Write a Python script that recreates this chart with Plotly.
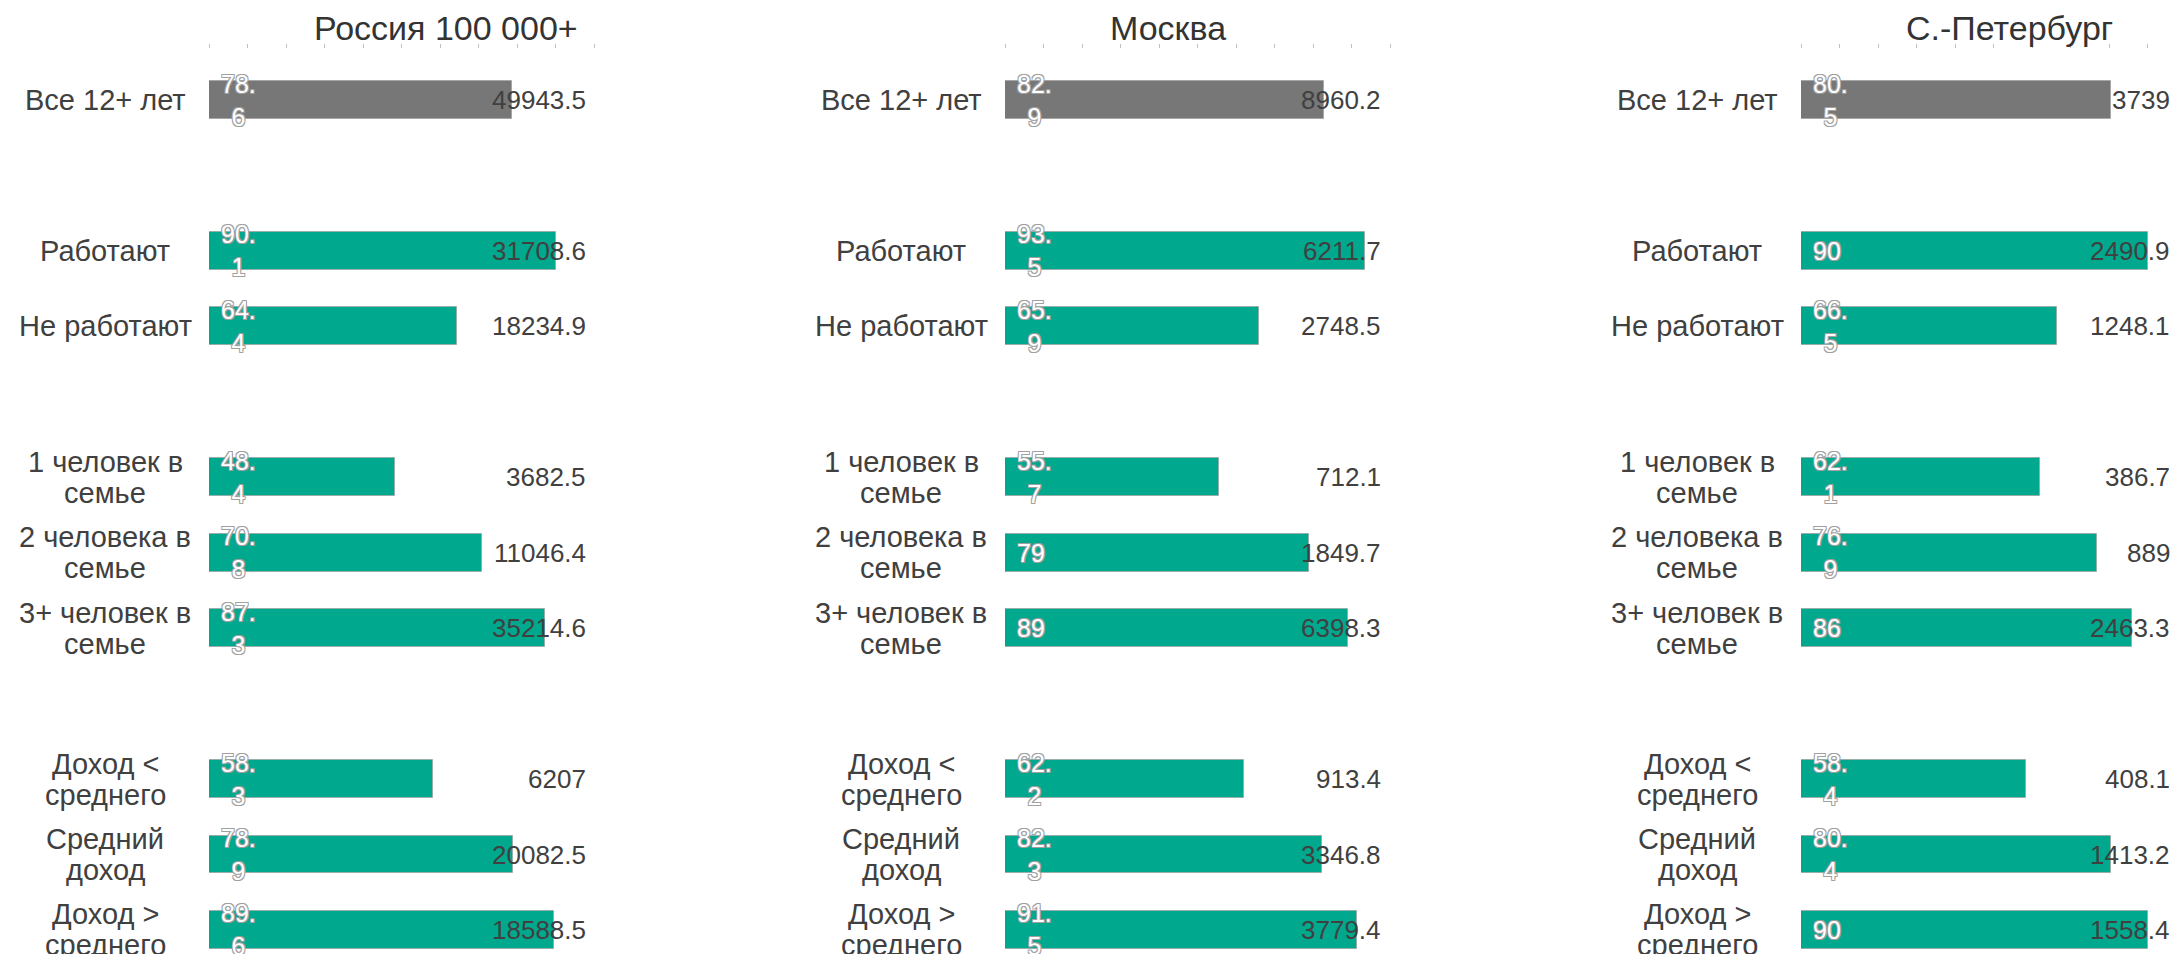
import plotly.graph_objects as go

# page size and browser body margin offset
PAGE_W, PAGE_H = 2182, 962
OFF = 8
W, H = PAGE_W - 2 * OFF, PAGE_H - 2 * OFF

regions = ["Россия 100 000+", "Москва", "С.-Петербург"]

categories = ["Все 12+ лет", "Работают", "Не работают",
              "1 человек в семье", "2 человека в семье", "3+ человек в семье",
              "Доход < среднего", "Средний доход", "Доход > среднего"]
category_labels = ["Все 12+ лет", "Работают", "Не работают",
                   "1 человек в\nсемье", "2 человека в\nсемье", "3+ человек в\nсемье",
                   "Доход &lt;\nсреднего", "Средний\nдоход", "Доход &gt;\nсреднего"]
group_index = [0, 1, 1, 2, 2, 2, 3, 3, 3]

share_russia = [78.6, 90.1, 64.4, 48.4, 70.8, 87.3, 58.3, 78.9, 89.6]
share_moscow = [82.9, 93.5, 65.9, 55.7, 79, 89, 62.2, 82.3, 91.5]
share_spb = [80.5, 90, 66.5, 62.1, 76.9, 86, 58.4, 80.4, 90]

count_russia = [49943.5, 31708.6, 18234.9, 3682.5, 11046.4, 35214.6, 6207, 20082.5, 18588.5]
count_moscow = [8960.2, 6211.7, 2748.5, 712.1, 1849.7, 6398.3, 913.4, 3346.8, 3779.4]
count_spb = [3739, 2490.9, 1248.1, 386.7, 889, 2463.3, 408.1, 1413.2, 1558.4]

shares = [share_russia, share_moscow, share_spb]
counts = [count_russia, count_moscow, count_spb]

# ---- layout constants (page pixel coordinates) ----
GRAY = "#777777"
TEAL = "#00A88E"
TXT = "#404040"
PX_PER_UNIT = 3.85
panel_start = [209 - OFF, 1005 - OFF, 1801 - OFF]
panel_end = [598 - OFF, 1394 - OFF, W]
value_right = [588 - OFF, 1383 - OFF, 2172 - OFF]
TOP = 49 - OFF
plot_h = H - TOP
row0_y = 100 - OFF
row_step = 75.45
y_top = -(row0_y - TOP) / row_step
y_bottom = y_top + plot_h / row_step

positions = [i + g for i, g in enumerate(group_index)]
colors = [GRAY if g == 0 else TEAL for g in group_index]


def fmt(v):
    return f"{v:g}"


def inner(v):
    s = fmt(v)
    if "." in s:
        a, b = s.split(".")
        return a + ".<br>" + b
    return s


fig = go.Figure()
annotations = []
oc = "#a0a0a0"
outline = f"1px 1px 0 {oc}, -1px -1px 0 {oc}, 1px -1px 0 {oc}, -1px 1px 0 {oc}"

for p in range(3):
    xa = "x" if p == 0 else f"x{p + 1}"
    fig.add_trace(go.Bar(
        x=shares[p], y=positions, orientation="h", width=0.5,
        marker=dict(color=colors, line=dict(color="rgba(160,160,160,0.7)", width=1)),
        xaxis=xa, yaxis="y", showlegend=False, hoverinfo="x+y",
    ))
    start = panel_start[p]
    # title
    annotations.append(dict(
        text=regions[p], xref="paper", yref="paper",
        x=(start + 103) / W, y=1 + (TOP - (28 - OFF)) / plot_h,
        xanchor="left", yanchor="middle", showarrow=False,
        font=dict(family="Liberation Sans, Arial", size=34, color="#333333"),
    ))
    for i, cat in enumerate(categories):
        pos = positions[i]
        lines = category_labels[i].split("\n")
        n = len(lines)
        for j, line in enumerate(lines):
            annotations.append(dict(
                text=line, xref="paper", yref="y",
                x=(start - 104) / W, y=pos, yshift=((n - 1) / 2 - j) * 31,
                xanchor="center", yanchor="middle", showarrow=False,
                font=dict(family="Liberation Sans, Arial", size=29, color=TXT),
            ))
        # value label at right
        annotations.append(dict(
            text=fmt(counts[p][i]), xref="paper", yref="y",
            x=value_right[p] / W, y=pos,
            xanchor="right", yanchor="middle", showarrow=False,
            font=dict(family="Liberation Sans, Arial", size=26, color=TXT),
        ))
        # inner share label
        annotations.append(dict(
            text=inner(shares[p][i]), xref=xa, yref="y",
            x=0, xshift=10, y=pos,
            xanchor="left", yanchor="middle", align="center", showarrow=False,
            font=dict(family="Liberation Sans, Arial", size=25, color="white", shadow=outline),
        ))

layout_axes = {}
for p in range(3):
    key = "xaxis" if p == 0 else f"xaxis{p + 1}"
    dom = [panel_start[p] / W, min(panel_end[p] / W, 1.0)]
    layout_axes[key] = dict(
        domain=dom, range=[0, (panel_end[p] - panel_start[p]) / PX_PER_UNIT],
        anchor="y", side="top", tickmode="array", tickvals=list(range(0, 101, 10)),
        ticks="outside", ticklen=4, tickwidth=1, tickcolor="#c0c0c0",
        showticklabels=False, showgrid=False, zeroline=False, showline=False,
        fixedrange=True,
    )

fig.update_layout(
    width=W, height=H,
    margin=dict(l=0, r=0, t=TOP, b=0, pad=0),
    paper_bgcolor="white", plot_bgcolor="white",
    yaxis=dict(domain=[0, 1], range=[y_bottom, y_top], visible=False, anchor="x",
               fixedrange=True),
    annotations=annotations,
    bargap=0,
    **layout_axes,
)

fig.write_html("out.html")
